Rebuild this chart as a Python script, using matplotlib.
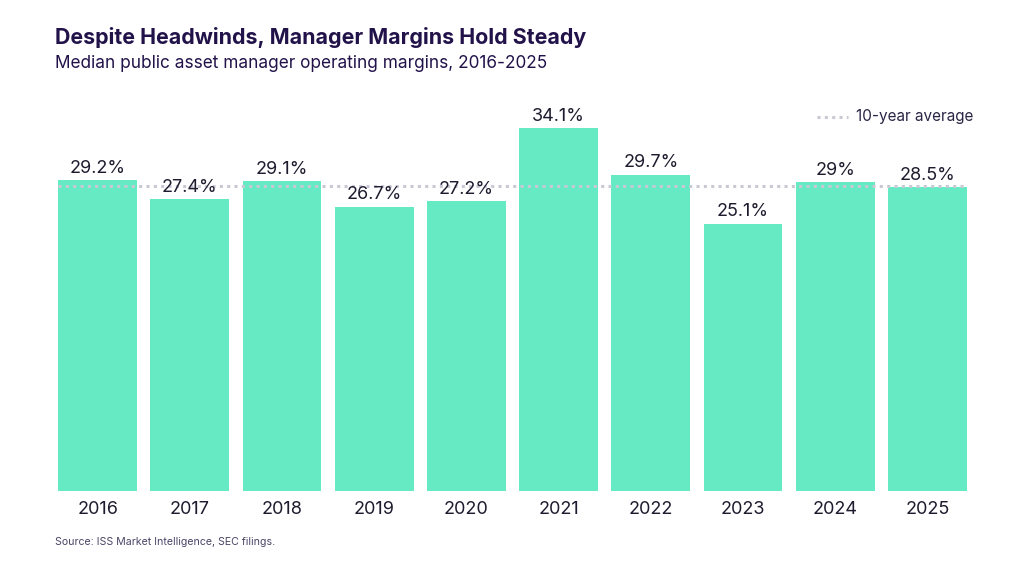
import matplotlib
matplotlib.use("Agg")
import matplotlib.pyplot as plt
import numpy as np

years = ["2016", "2017", "2018", "2019", "2020", "2021", "2022", "2023", "2024", "2025"]
margins = [29.2, 27.4, 29.1, 26.7, 27.2, 34.1, 29.7, 25.1, 29.0, 28.5]
labels = ["29.2%", "27.4%", "29.1%", "26.7%", "27.2%", "34.1%", "29.7%", "25.1%", "29%", "28.5%"]

bar_color = "#66EAC3"
text_dark = "#1E1B2E"
title_color = "#22124A"
avg_color = "#C9C9D6"

plt.rcParams['font.family'] = ['Inter', 'DejaVu Sans']

fig = plt.figure(figsize=(10.24, 5.76), dpi=100)
ax = fig.add_axes([58 / 1024, 1 - 491 / 576, (967 - 58) / 1024, (491 - 100) / 576])

x = np.arange(len(years))
avg = np.mean(margins)
ax.bar(x, margins, width=0.855, color=bar_color, zorder=2)
ax.plot([-0.43, 9.43], [avg, avg], linestyle=(0, (1, 1.4)), color=avg_color, linewidth=2.2, zorder=3)

for xi, v, lab in zip(x, margins, labels):
    ax.text(xi, v + 0.3, lab, ha="center", va="bottom", fontsize=13, color=text_dark, zorder=4)

ax.set_xlim(-0.43, 9.43)
ax.set_ylim(0, 36.7)
ax.set_xticks(x)
ax.set_xticklabels(years, fontsize=13, color=text_dark)
ax.tick_params(axis="x", length=0, pad=7)
ax.set_yticks([])
for s in ax.spines.values():
    s.set_visible(False)

# legend for average line
fig.lines.append(plt.Line2D([817 / 1024, 848 / 1024], [1 - 117 / 576, 1 - 117 / 576],
                            linestyle=(0, (1, 1.4)), color=avg_color, linewidth=2.2,
                            transform=fig.transFigure))
fig.text(856 / 1024, 1 - 117 / 576, "10-year average", fontsize=11, color="#2B2545",
         va="center", ha="left")

fig.text(55 / 1024, 1 - 37 / 576, "Despite Headwinds, Manager Margins Hold Steady",
         fontsize=15.4, fontweight="bold", color=title_color, va="center", ha="left")
fig.text(55 / 1024, 1 - 64 / 576, "Median public asset manager operating margins, 2016-2025",
         fontsize=12.4, color=title_color, va="center", ha="left")
fig.text(55 / 1024, 1 - 542 / 576, "Source: ISS Market Intelligence, SEC filings.",
         fontsize=7.6, color="#4A4466", va="center", ha="left")

fig.savefig("out.png", dpi=100, facecolor="white")
